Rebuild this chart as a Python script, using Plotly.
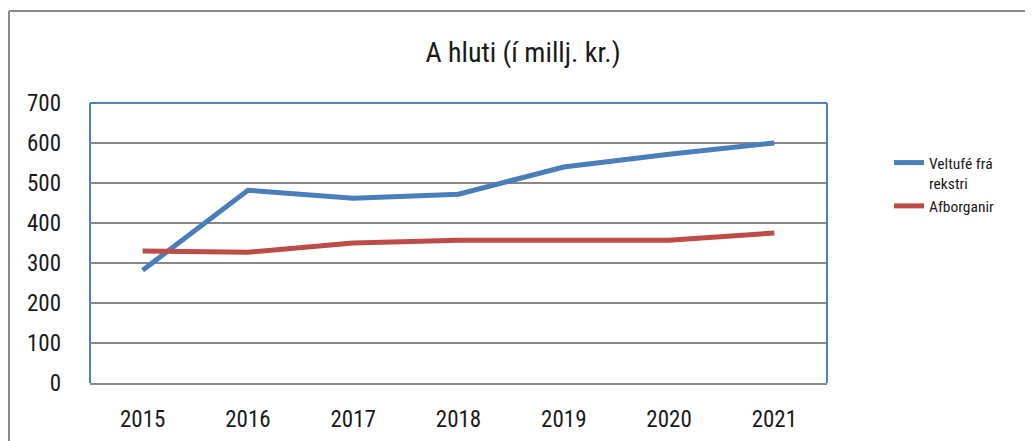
import plotly.graph_objects as go

years = ["2015", "2016", "2017", "2018", "2019", "2020", "2021"]
veltufe = [282, 482, 462, 472, 540, 572, 600]
afborganir = [330, 327, 350, 357, 357, 357, 375]
series_names = ["Veltufé frá<br>rekstri", "Afborganir"]
title_text = "A hluti (í millj. kr.)"

FONT = "Liberation Sans Narrow, Arial Narrow, Roboto Condensed, sans-serif"
GRID = "#878787"
BLUE_BORDER = "#4f81bd"

fig = go.Figure()
fig.add_trace(go.Scatter(x=years, y=veltufe, mode="lines", name=series_names[0],
                         line=dict(color="#4a7ebb", width=5)))
fig.add_trace(go.Scatter(x=years, y=afborganir, mode="lines", name=series_names[1],
                         line=dict(color="#be4b48", width=5)))

# page has an 8px body margin: figure origin sits at page (8, 8)
OFF = 8
W, H = 1033 - OFF, 441 - OFF
L, R, T, B = 90 - OFF, 206, 103 - OFF, 58
pw, ph = W - L - R, H - T - B

def px_x(x):  # page x -> paper
    return (x - OFF - L) / pw

def px_y(y):  # page y -> paper
    return (H - B - (y - OFF)) / ph

shapes = []
for (x0, y0, x1, y1) in [(0, 0, 0, 1), (0, 1, 1, 1), (1, 0, 1, 1)]:
    shapes.append(dict(type="line", xref="paper", yref="paper", x0=x0, y0=y0, x1=x1, y1=y1,
                       line=dict(color=BLUE_BORDER, width=2), layer="above"))
fx, fy = px_x(9), px_y(11)
shapes.append(dict(type="line", xref="paper", yref="paper", x0=fx, y0=px_y(450), x1=fx, y1=fy,
                   line=dict(color="#898989", width=2)))
shapes.append(dict(type="line", xref="paper", yref="paper", x0=fx, y0=fy, x1=px_x(1045), y1=fy,
                   line=dict(color="#898989", width=2)))

fig.update_layout(
    width=W, height=H,
    margin=dict(l=L, r=R, t=T, b=B, autoexpand=False),
    paper_bgcolor="white", plot_bgcolor="white",
    font=dict(family=FONT, color="#1a1a1a"),
    title=dict(text=title_text, x=(523 - OFF) / W, xref="container", xanchor="center",
               y=1 - (52 - OFF) / H, yref="container", yanchor="middle",
               font=dict(family=FONT, size=28, color="#1a1a1a")),
    xaxis=dict(type="category", range=[-0.5, 6.5], showgrid=False, zeroline=False,
               showline=True, linecolor=GRID, linewidth=2, ticks="",
               tickfont=dict(family=FONT, size=23, color="#1a1a1a"),
               ticklabelstandoff=14, automargin=False),
    yaxis=dict(range=[0, 700], dtick=100, tick0=0, showgrid=True, gridcolor=GRID, gridwidth=2,
               zeroline=False, showline=False, ticks="",
               tickfont=dict(family=FONT, size=23, color="#1a1a1a"),
               ticklabelstandoff=28, automargin=False),
    legend=dict(x=px_x(889), y=px_y(146), xanchor="left", yanchor="top",
                valign="top", font=dict(family=FONT, size=15.5, color="#1a1a1a"),
                bgcolor="rgba(0,0,0,0)", tracegroupgap=0),
    shapes=shapes,
    showlegend=True,
)

fig.write_html("out.html")
